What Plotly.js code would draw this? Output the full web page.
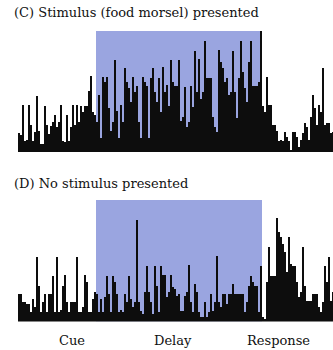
<!DOCTYPE html>
<html>
<head>
<meta charset="utf-8">
<script src="https://cdn.plot.ly/plotly-3.0.1.min.js"></script>
<style>
  html, body { margin: 0; padding: 0; background: #fff; }
  #chart { width: 333px; height: 350px; }
</style>
</head>
<body>
<div id="chart"></div>
<script>
// Time bins (arbitrary units, one bin per step)
const timeBins = Array.from({length: 158}, (_, i) => i);

// (C) Stimulus presented: firing per bin
const stimulusRates = [
  19,17,47,11,12,47,27,11,20,56, 21,8,8,46,27,18,26,30,37,25,
  30,47,11,10,37,11,25,47,27,47, 30,46,40,46,46,61,76,40,37,30,
  57,14,75,70,75,44,21,30,92,41, 14,47,30,84,70,64,50,75,60,66,
  30,14,75,70,66,14,74,84,60,50, 74,40,85,60,67,46,92,70,66,66,
  92,31,35,65,25,30,66,45,101,60, 93,53,60,111,74,74,74,35,25,20,
  102,90,84,70,74,57,60,101,60,34, 74,111,80,64,50,90,111,66,66,66,
  70,121,46,40,75,47,47,27,27,21, 11,12,11,20,15,11,2,20,20,15,
  5,12,19,29,25,12,35,57,44,27, 47,40,84,27,29,29,19,20
];

// (D) No stimulus presented: firing per bin
const noStimulusRates = [
  28,28,20,20,18,18,10,23,15,65, 36,10,20,28,10,28,28,46,10,65,
  10,12,36,47,20,10,20,20,20,65, 10,10,15,47,40,10,10,23,30,28,
  10,23,10,25,46,28,10,46,40,28, 10,12,10,28,20,46,23,15,20,101,
  20,11,8,30,56,30,20,8,56,36, 10,56,47,47,25,30,47,35,33,26,
  28,11,11,26,30,57,20,10,38,30, 10,5,5,20,5,10,28,11,20,66,
  20,15,28,28,18,28,28,38,28,28, 28,28,28,10,20,36,46,40,36,36,
  10,56,5,3,40,75,46,46,46,103, 90,85,78,70,50,85,58,56,56,40,
  25,30,75,36,21,21,21,28,28,28, 15,10,20,56,40,65,21,30
];

// Delay period (in time bins)
const delayStart = 38.5;
const delayEnd = 121.5;

// Phase labels under the time axis
const phaseLabels = ['Cue', 'Delay', 'Response'];
const phasePositions = [26.5, 77, 129.5];

const panelTitles = ['(C) Stimulus (food morsel) presented', '(D) No stimulus presented'];

const serif = '"DejaVu Serif", "Liberation Serif", serif';
const barColor = '#0d0d0d';
const delayColor = 'rgb(154,165,224)';

const traces = [
  { type: 'bar', x: timeBins, y: stimulusRates, xaxis: 'x', yaxis: 'y',
    marker: { color: barColor, line: { width: 0 } }, hoverinfo: 'skip' },
  { type: 'bar', x: timeBins, y: noStimulusRates, xaxis: 'x2', yaxis: 'y2',
    marker: { color: barColor, line: { width: 0 } }, hoverinfo: 'skip' }
];

const hiddenX = { range: [-0.5, 157], showgrid: false, zeroline: false, showticklabels: false, ticks: '', showline: false, fixedrange: true };

const layout = {
  width: 333, height: 350,
  margin: { l: 18, r: 0, t: 0, b: 0 },
  paper_bgcolor: '#fff', plot_bgcolor: 'rgba(0,0,0,0)',
  showlegend: false,
  bargap: 0,
  xaxis: Object.assign({}, hiddenX, { anchor: 'y' }),
  xaxis2: Object.assign({}, hiddenX, { anchor: 'y2' }),
  yaxis: { domain: [0.5657, 0.9114], range: [0, 121], visible: false, fixedrange: true },
  yaxis2: { domain: [0.0814, 0.4286], range: [0, 121.5], visible: false, fixedrange: true },
  shapes: [
    { type: 'rect', layer: 'below', xref: 'x', yref: 'y', x0: delayStart, x1: delayEnd, y0: 0, y1: 121,
      fillcolor: delayColor, line: { width: 0 } },
    { type: 'rect', layer: 'below', xref: 'x2', yref: 'y2', x0: delayStart, x1: delayEnd, y0: 0, y1: 121.5,
      fillcolor: delayColor, line: { width: 0 } }
  ],
  annotations: [
    { text: panelTitles[0], xref: 'paper', yref: 'paper', x: -0.019, y: 0.963, xanchor: 'left', yanchor: 'middle',
      showarrow: false, font: { family: serif, size: 13, color: '#111' } },
    { text: panelTitles[1], xref: 'paper', yref: 'paper', x: -0.019, y: 0.477, xanchor: 'left', yanchor: 'middle',
      showarrow: false, font: { family: serif, size: 13, color: '#111' } }
  ].concat(phaseLabels.map((t, i) => ({
    text: t, xref: 'x2', yref: 'paper', x: phasePositions[i], y: 0.028, xanchor: 'center', yanchor: 'middle',
    showarrow: false, font: { family: serif, size: 13, color: '#111' }
  })))
};

Plotly.newPlot('chart', traces, layout, { displayModeBar: false, staticPlot: true });
</script>
</body>
</html>
